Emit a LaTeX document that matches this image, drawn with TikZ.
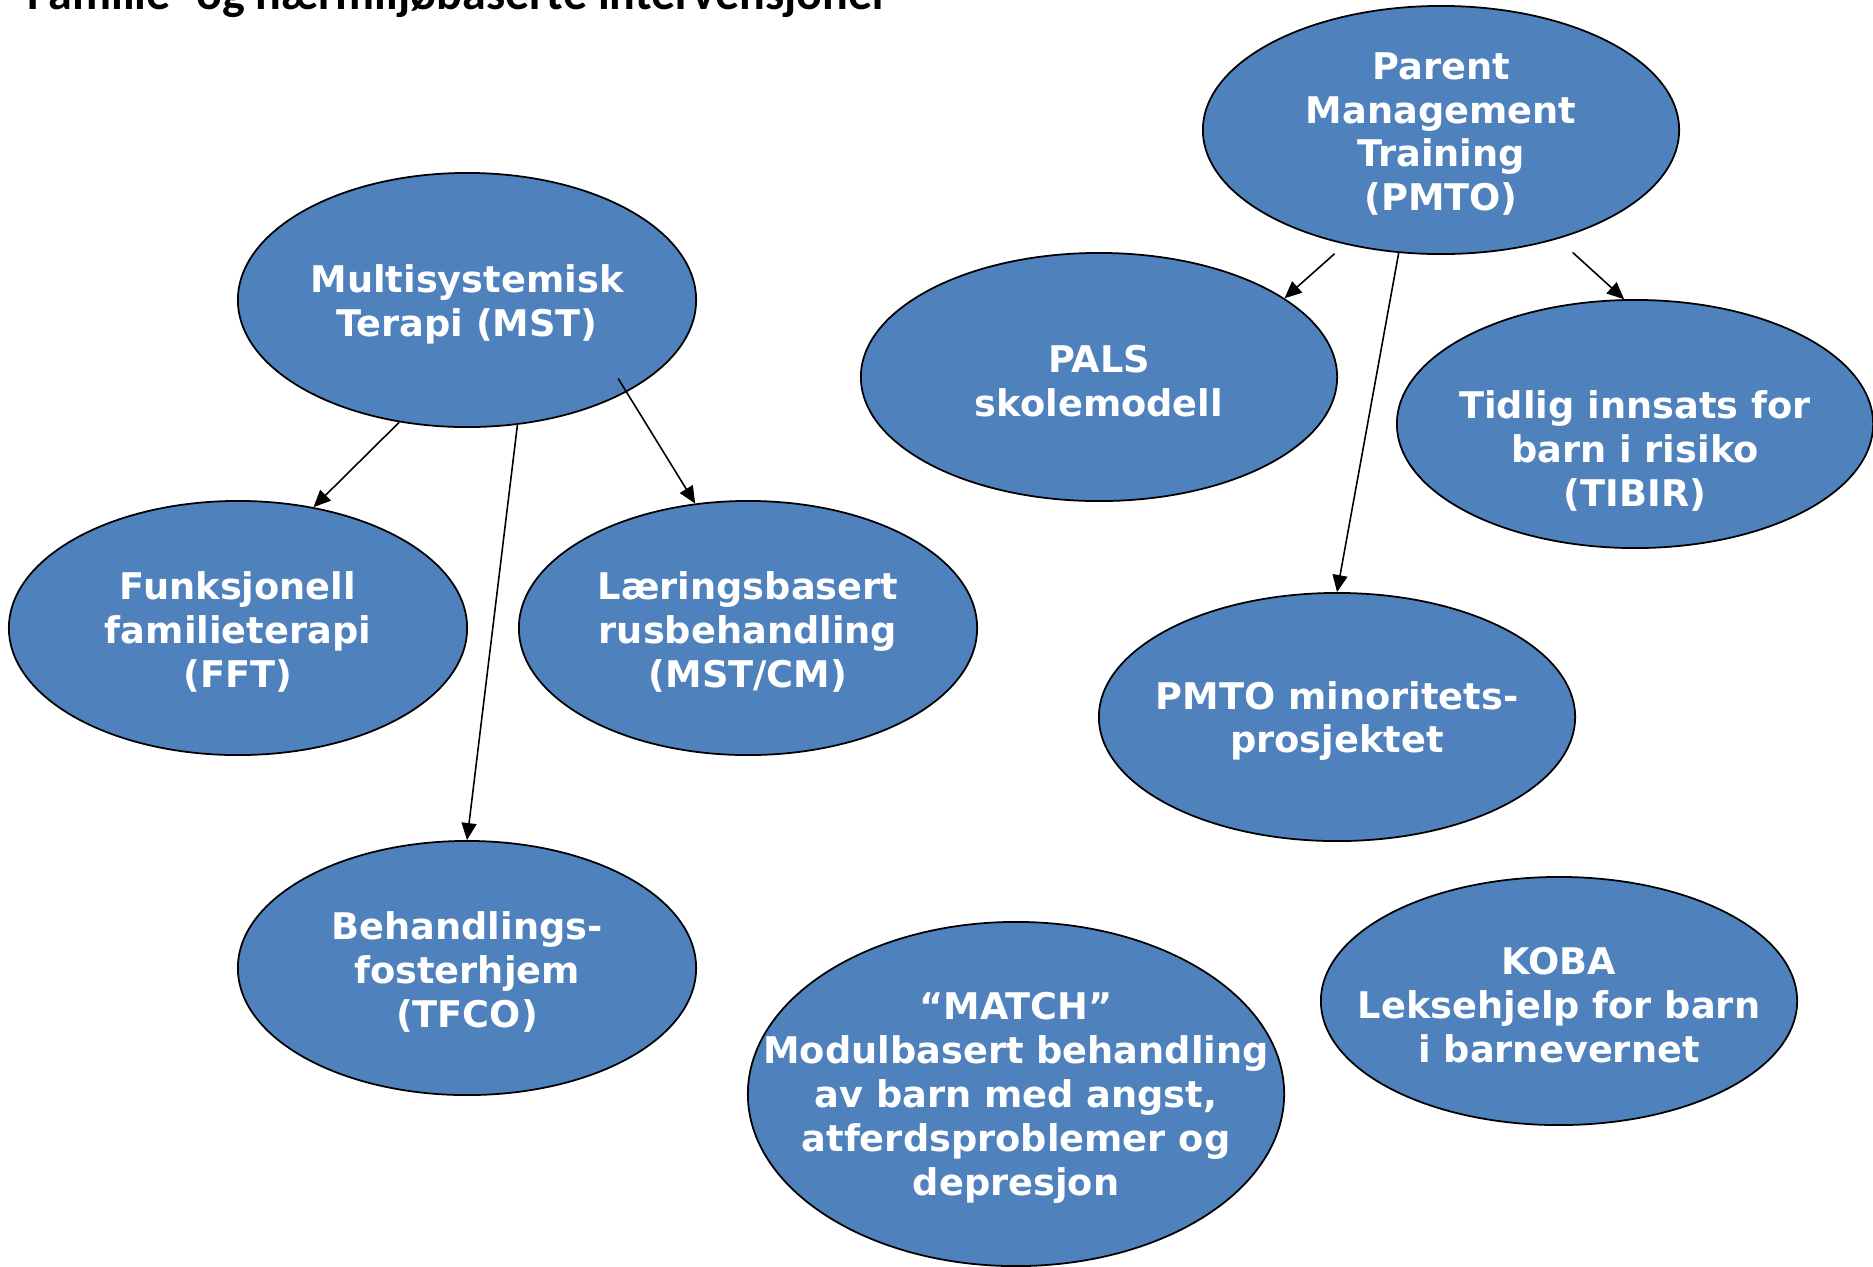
\documentclass[tikz,border=0pt]{standalone}
\usepackage{fontspec}
\setmainfont{DejaVu Sans}
\newfontfamily\titlefont{Carlito}
\usepackage{xcolor}
\usetikzlibrary{shapes.geometric,arrows.meta,positioning}
\definecolor{ovalblue}{HTML}{4F81BD}

\begin{document}
\begin{tikzpicture}[x=0.01cm,y=-0.01cm,
  oval/.style={ellipse,draw=black,line width=0.5pt,fill=ovalblue,inner sep=0pt,
    minimum width=4.58cm,minimum height=2.54cm},
  wideoval/.style={oval,minimum width=4.76cm,minimum height=2.48cm},
  ovaltext/.style={text=white,font=\bfseries\fontsize{10.45}{12.5}\selectfont,align=center,
    inner sep=0pt,yshift=-0.4mm},
  link/.style={line width=0.45pt,-{Triangle[length=0.17cm,width=0.15cm]}}]
  \useasboundingbox (0,0) rectangle (1873,1266);

  % Title
  \node[anchor=base west,inner sep=0pt,font=\titlefont\bfseries\fontsize{13.66}{16}\selectfont] (title) at (27,9)
    {Familie- og nærmiljøbaserte intervensjoner};

  % MST and its branches
  \node[oval] (mst) at (467,300) {};
  \node[ovaltext] (mst-t) at (mst) {Multisystemisk\\Terapi (MST)};
  \node[oval] (fft) at (238,628) {};
  \node[ovaltext] (fft-t) at (fft) {Funksjonell\\familieterapi\\(FFT)};
  \node[oval] (mstcm) at (748,628) {};
  \node[ovaltext] (mstcm-t) at (mstcm) {Læringsbasert\\rusbehandling\\(MST/CM)};
  \node[oval] (tfco) at (467,968) {};
  \node[ovaltext] (tfco-t) at (tfco) {Behandlings-\\fosterhjem\\(TFCO)};

  % PMTO and its branches
  \node[wideoval] (pmto) at (1441,130) {};
  \node[ovaltext] (pmto-t) at (pmto) {Parent\\Management\\Training\\(PMTO)};
  \node[wideoval] (pals) at (1099,377) {};
  \node[ovaltext] (pals-t) at (pals) {PALS\\skolemodell};
  \node[wideoval] (tibir) at (1635,424) {};
  \node[ovaltext] (tibir-t) at (1635,447) {Tidlig innsats for\\barn i risiko\\(TIBIR)};
  \node[wideoval] (minor) at (1337,717) {};
  \node[ovaltext] (minor-t) at (minor) {PMTO minoritets-\\prosjektet};

  % Standalone ones
  \node[oval,minimum width=5.36cm,minimum height=3.44cm] (match) at (1016,1094) {};
  \node[ovaltext] (match-t) at (match) {“MATCH”\\Modulbasert behandling\\av barn med angst,\\atferdsproblemer og\\depresjon};
  \node[wideoval] (koba) at (1559,1001) {};
  \node[ovaltext] (koba-t) at (koba) {KOBA\\Leksehjelp for barn\\i barnevernet};

  % Arrows
  \draw[link] (mst.241) -- (fft.58);
  \draw[link] (mst.292) -- (tfco.north);
  \draw[link,shorten <=-0.16cm] (mst.330) -- (mstcm.113);
  \draw[link,shorten <=0.14cm] (pmto.230) -- (pals.23);
  \draw[link] (pmto.251) -- (minor.north);
  \draw[link,shorten <=0.2cm] (pmto.317) -- (tibir.95);
\end{tikzpicture}
\end{document}
